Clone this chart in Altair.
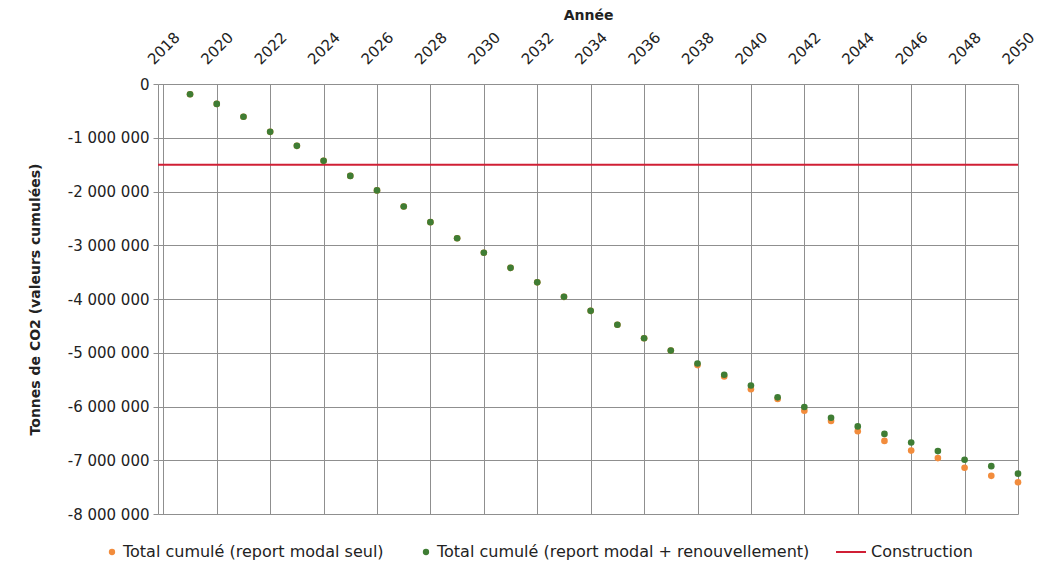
import altair as alt
import pandas as pd

# ---- data ----
annees = list(range(2019, 2051))

report_modal_seul = [
    -190000, -370000, -610000, -890000, -1150000, -1430000, -1710000, -1980000,
    -2280000, -2570000, -2870000, -3140000, -3420000, -3690000, -3960000, -4220000,
    -4480000, -4730000, -4960000, -5230000, -5440000, -5680000, -5860000, -6080000,
    -6270000, -6460000, -6640000, -6820000, -6960000, -7140000, -7290000, -7410000,
]

report_modal_renouvellement = [
    -190000, -370000, -610000, -890000, -1150000, -1430000, -1710000, -1980000,
    -2280000, -2570000, -2870000, -3140000, -3420000, -3690000, -3960000, -4220000,
    -4480000, -4730000, -4960000, -5200000, -5410000, -5610000, -5830000, -6010000,
    -6210000, -6370000, -6510000, -6670000, -6830000, -6990000, -7110000, -7250000,
]

construction = [-1500000]

series_points = [
    "Total cumulé (report modal seul)",
    "Total cumulé (report modal + renouvellement)",
]
serie_ligne = ["Construction"]
couleurs_points = ["#F28C3C", "#3F7D34"]
couleur_ligne = ["#D01F35"]

ticks_x = list(range(2018, 2051, 2))
ticks_y = list(range(-8000000, 1, 1000000))

# ---- tables ----
df_pts = pd.concat([
    pd.DataFrame({"annee": annees, "valeur": report_modal_seul, "serie": series_points[0]}),
    pd.DataFrame({"annee": annees, "valeur": report_modal_renouvellement, "serie": series_points[1]}),
], ignore_index=True)
df_constr = pd.DataFrame({"valeur": construction, "serie": serie_ligne})

FONT = "DejaVu Sans"
GRID = "#8f8f8f"
TXT = "#222222"

x_enc = alt.X(
    "annee:Q",
    scale=alt.Scale(domain=[2017.8, 2050], nice=False, zero=False),
    axis=alt.Axis(
        orient="top", values=ticks_x, format="d", title="Année",
        labelAngle=-45, labelAlign="center", labelBaseline="middle",
        labelPadding=36, tickSize=0, domain=False, labelOverlap=False, labelFlush=False,
        grid=True, gridColor=GRID, gridWidth=1,
        titleX=430, titleY=-69, titleBaseline="middle", titleAlign="center",
    ),
)
y_enc = alt.Y(
    "valeur:Q",
    scale=alt.Scale(domain=[-8000000, 0], nice=False),
    axis=alt.Axis(
        values=ticks_y,
        labelExpr="replace(replace(replace(format(datum.value, ','), ',', ' '), ',', ' '), '\u2212', '-')",
        title="Tonnes de CO2 (valeurs cumulées)",
        titleAngle=-90, titleX=-123, titleY=215, titleAlign="center", titleBaseline="middle",
        tickSize=5, tickColor=GRID, domain=True, domainColor=GRID, labelPadding=4,
        grid=True, gridColor=GRID, gridWidth=1,
    ),
)

points = alt.Chart(df_pts).mark_point(filled=True, opacity=1, strokeWidth=0, size=44, shape="circle").encode(
    x=x_enc,
    y=y_enc,
    fill=alt.Fill(
        "serie:N",
        scale=alt.Scale(domain=series_points, range=couleurs_points),
        legend=alt.Legend(
            title=None, orient="none", legendX=-54, legendY=460, direction="horizontal",
            symbolType="circle", symbolSize=40, columnPadding=34, labelOffset=3,
        ),
    ),
    order=alt.Order("ordre:Q"),
).transform_calculate(ordre="datum.serie == '%s' ? 0 : 1" % series_points[0])

regle = alt.Chart(df_constr).mark_rule(strokeWidth=2).encode(
    y=alt.Y("valeur:Q"),
    color=alt.Color(
        "serie:N",
        scale=alt.Scale(domain=serie_ligne, range=couleur_ligne),
        legend=alt.Legend(
            title=None, orient="none", legendX=677, legendY=452, direction="horizontal",
            symbolType="stroke", symbolSize=900, symbolStrokeWidth=2, labelOffset=4,
        ),
    ),
)

chart = alt.layer(regle, points).properties(
    width=860, height=430,
    autosize=alt.AutoSizeParams(type="none"),
    padding={"left": 150, "top": 76, "right": 29, "bottom": 47},
).configure_view(stroke=None).configure_axis(
    labelFont=FONT, labelFontSize=15, labelColor=TXT,
    titleFont=FONT, titleFontSize=14, titleFontWeight="bold", titleColor=TXT,
).configure_legend(
    labelFont=FONT, labelFontSize=16, labelColor=TXT, labelLimit=500,
)

chart.save("out.html", embed_options={"renderer": "svg", "actions": False})
